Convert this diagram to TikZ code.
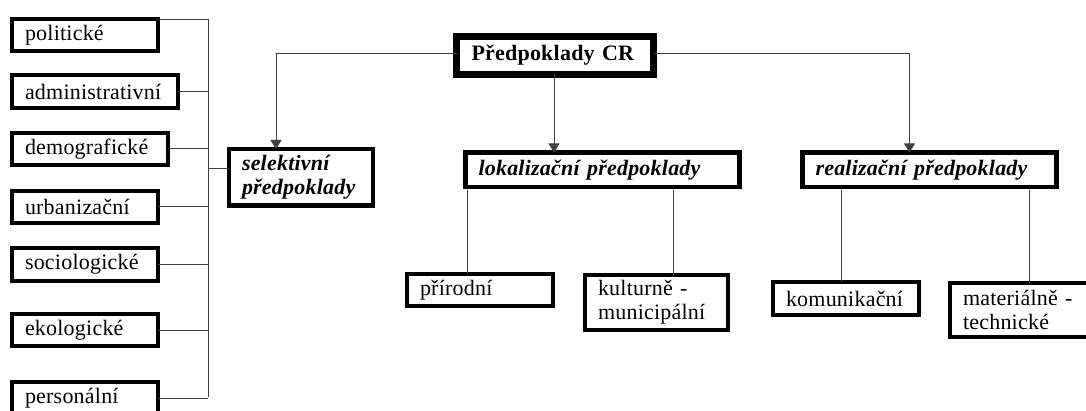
\documentclass[tikz,border=0pt]{standalone}
\usepackage{fontspec}
\setmainfont[LetterSpace=1]{Liberation Serif}
\usetikzlibrary{arrows.meta}
\hyphenpenalty=10000
\exhyphenpenalty=10000

\begin{document}
\begin{tikzpicture}[x=1pt, y=-1pt, >={Triangle[width=11pt, length=9pt]}, semithick]
            \tikzset{item/.style={draw, line width=3.5pt, anchor=north west, inner xsep=13pt, inner ysep=0pt, outer sep=0pt, align=left, font=\fontsize{22}{24}\selectfont}};
            \tikzset{group/.style={item, line width=4.5pt, font=\fontsize{22}{24}\selectfont\bfseries\itshape}};
            \tikzset{link/.style={draw=black!75, line width=1pt}};
            \useasboundingbox (0, 0) rectangle (1086, 411);
            % Left
            \node[item, text width=120, minimum height=32] (pol) at (12, 19) {politické};
            \node[item, text width=140, minimum height=33] (adm) at (12, 75) {administrativní};
            \node[item, text width=130, minimum height=32] (dem) at (12, 133) {demografické};
            \node[item, text width=120, minimum height=32] (urb) at (12, 191) {urbanizační};
            \node[item, text width=120, minimum height=33] (soc) at (12, 248) {sociologické};
            \node[item, text width=120, minimum height=32] (eko) at (12, 314) {ekologické};
            \node[item, text width=120, minimum height=33] (per) at (12, 382) {personální};
            \coordinate (busbot) at (208, 397);
            \draw[link] ([yshift=-1pt]pol.north east) -| (busbot);
            \foreach \n in {adm, dem, urb, soc, eko, per}{
                \draw[link] (\n.east) -- (\n.east -| busbot);
            }
            \node[group, text width=118, minimum height=56.5] (sel) at (229, 149) {selektivní\\ předpoklady};
            \draw[link] ([yshift=9pt]sel.west) -- ([yshift=9pt]sel.west -| busbot);
            % Top
            \node[item, line width=7pt, inner xsep=15pt, text width=167, minimum height=38, font=\fontsize{22}{24}\selectfont\bfseries] (top) at (456.5, 36.5) {Předpoklady CR};
            \draw[link, ->] ([yshift=2pt]top.west) -| ([xshift=-25pt]sel.north);
            % Middle
            \node[group, text width=248, minimum height=34.5] (lok) at (465.5, 152.5) {lokalizační předpoklady};
            \draw[link, ->] ([xshift=-1pt]top.south) -- ([xshift=-1pt]top.south |- lok.north);
            \node[item, text width=120, minimum height=32] (pri) at (407, 274) {přírodní};
            \node[item, text width=117, minimum height=55] (kul) at (585, 275) {kulturně -\\ municipální};
            \draw[link] ([xshift=-13pt]pri.north) -- ([xshift=-13pt, yshift=-3pt]pri.north |- lok.south);
            \draw[link] ([xshift=17pt]kul.north) -- ([xshift=17pt, yshift=-3pt]kul.north |- lok.south);
            % Right
            \node[group, text width=228, minimum height=34.5] (real) at (802.5, 152.5) {realizační předpoklady};
            \draw[link, ->] ([yshift=2pt]top.east) -| ([xshift=-20pt]real.north);
            \node[item, text width=120, minimum height=33] (kom) at (773, 282) {komunikační};
            \node[item, text width=120, minimum height=54] (mat) at (950, 283) {materiálně -\\ technické};
            \draw[link] ([xshift=-4.5pt]kom.north) -- ([xshift=-4.5pt, yshift=-3pt]kom.north |- real.south);
            \draw[link] ([xshift=6.5pt]mat.north) -- ([xshift=6.5pt, yshift=-3pt]mat.north |- real.south);
        \end{tikzpicture}
\end{document}
